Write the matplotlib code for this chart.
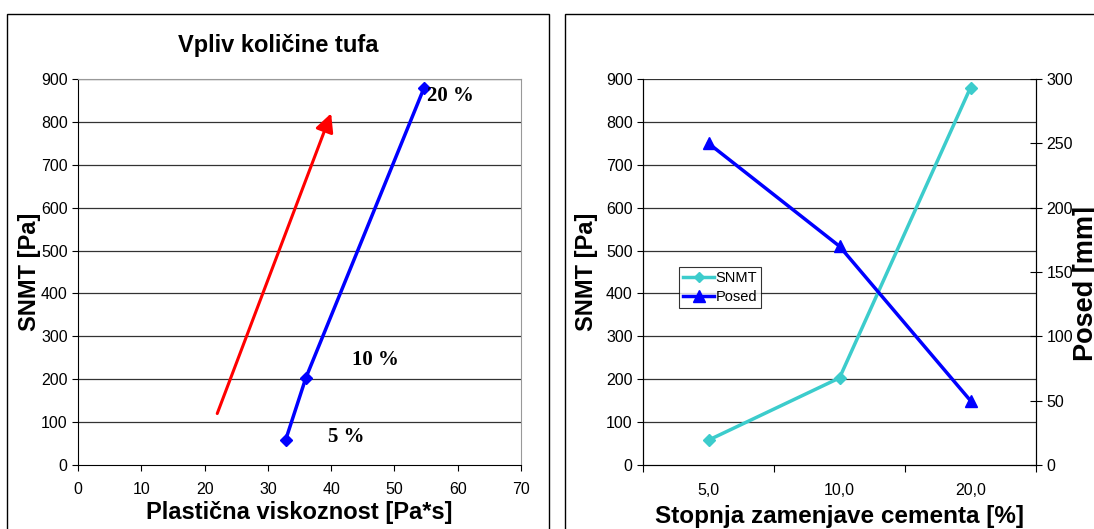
import numpy as np
import matplotlib
matplotlib.use("Agg")
import matplotlib.pyplot as plt
from matplotlib.patches import Rectangle

plt.rcParams['font.family'] = ['Liberation Sans', 'DejaVu Sans']

# left chart data
visc = [32.8, 36.0, 54.7]
snmt_l = [58, 203, 880]
pct_labels = ['5 %', '10 %', '20 %']
label_x = [39.5, 43.3, 55.1]
label_y = [65, 245, 860]
arrow_x = [22, 40]
arrow_y = [120, 820]

# right chart data
categories = ['5,0', '10,0', '20,0']
snmt_r = [58, 203, 880]
posed = [250, 170, 50]

W, H = 1094, 529
fig = plt.figure(figsize=(W / 100, H / 100), dpi=100)

# panel frames
for x0, x1 in [(7, 549), (565, 1100)]:
    fig.patches.append(Rectangle((x0 / W, -0.1), (x1 - x0) / W, 1.1 - 14 / H,
                                 transform=fig.transFigure, fill=False,
                                 edgecolor='black', lw=1.0))

LBL = 17
TCK = 11.5

# ---- left
ax = fig.add_axes([78 / W, 1 - 465 / H, (521 - 78) / W, (465 - 79) / H])
ax.set_xlim(0, 70)
ax.set_ylim(0, 900)
ax.set_xticks(range(0, 71, 10))
ax.set_yticks(range(0, 901, 100))
for y in range(100, 901, 100):
    ax.axhline(y, color='#333333', lw=0.9, zorder=0)
ax.spines['top'].set_color('#999999')
ax.spines['right'].set_color('#999999')
ax.tick_params(direction='out', length=4, labelsize=TCK, width=0.8)
ax.tick_params(axis='x', pad=8)
ax.plot(visc, snmt_l, color='blue', lw=2.5, marker='D', ms=6, zorder=3)
ax.annotate('', xy=(arrow_x[1], arrow_y[1]), xytext=(arrow_x[0], arrow_y[0]),
            arrowprops=dict(arrowstyle='-|>,head_length=1.1,head_width=0.55',
                            color='red', lw=2.2, shrinkA=0, shrinkB=0), zorder=2)
for x, y, t in zip(label_x, label_y, pct_labels):
    ax.text(x, y, t, family=['Liberation Serif'], weight='bold',
            fontsize=15, va='center', ha='left')
fig.text(278 / W, 1 - 46 / H, 'Vpliv količine tufa', fontsize=LBL, weight='bold',
         ha='center', va='center')
ax.set_ylabel('SNMT [Pa]', fontsize=LBL, weight='bold', labelpad=0)
ax.set_xlabel('Plastična viskoznost [Pa*s]', fontsize=LBL, weight='bold', labelpad=3)

# ---- right
ax2 = fig.add_axes([643 / W, 1 - 465 / H, (1036 - 643) / W, (465 - 79) / H])
xs = np.arange(len(categories)) + 0.5
ax2.set_xlim(0, 3)
ax2.set_ylim(0, 900)
ax2.set_yticks(range(0, 901, 100))
ax2.set_xticks([0, 1, 2, 3])
ax2.set_xticklabels([])
ax2.set_xticks(xs, minor=True)
ax2.set_xticklabels(categories, minor=True)
ax2.tick_params(axis='x', which='minor', length=0, labelsize=TCK, pad=13)
ax2.tick_params(axis='x', which='major', direction='out', length=5)
ax2.tick_params(axis='y', direction='out', length=4, labelsize=TCK)
for y in range(100, 901, 100):
    ax2.axhline(y, color='#333333', lw=0.9, zorder=0)
ax2.spines['top'].set_visible(False)
l1, = ax2.plot(xs, snmt_r, color='#3CCCCC', lw=2.5, marker='D', ms=6, label='SNMT')
ax2.set_ylabel('SNMT [Pa]', fontsize=LBL, weight='bold', labelpad=6)
ax2.set_xlabel('Stopnja zamenjave cementa [%]', fontsize=17.5, weight='bold', labelpad=5)

ax3 = ax2.twinx()
ax3.set_ylim(0, 300)
ax3.set_yticks(range(0, 301, 50))
ax3.tick_params(direction='inout', length=8, labelsize=TCK)
ax3.spines['top'].set_visible(False)
l2, = ax3.plot(xs, posed, color='blue', lw=2.5, marker='^', ms=9, label='Posed')
ax3.set_ylabel('Posed [mm]', fontsize=19.5, weight='bold', labelpad=0)
ax3.yaxis.label.set_y(0.47)

leg = ax3.legend(handles=[l1, l2], loc='upper left',
                 bbox_to_anchor=((679 - 643) / (1036 - 643), (465 - 267) / (465 - 79)),
                 fontsize=10.5, frameon=True, fancybox=False, edgecolor='black',
                 handlelength=2.1, handletextpad=0.1, borderpad=0.3,
                 labelspacing=0.3, borderaxespad=0, markerscale=0.9)
leg.get_frame().set_linewidth(0.8)

fig.savefig('out.png', dpi=100)
